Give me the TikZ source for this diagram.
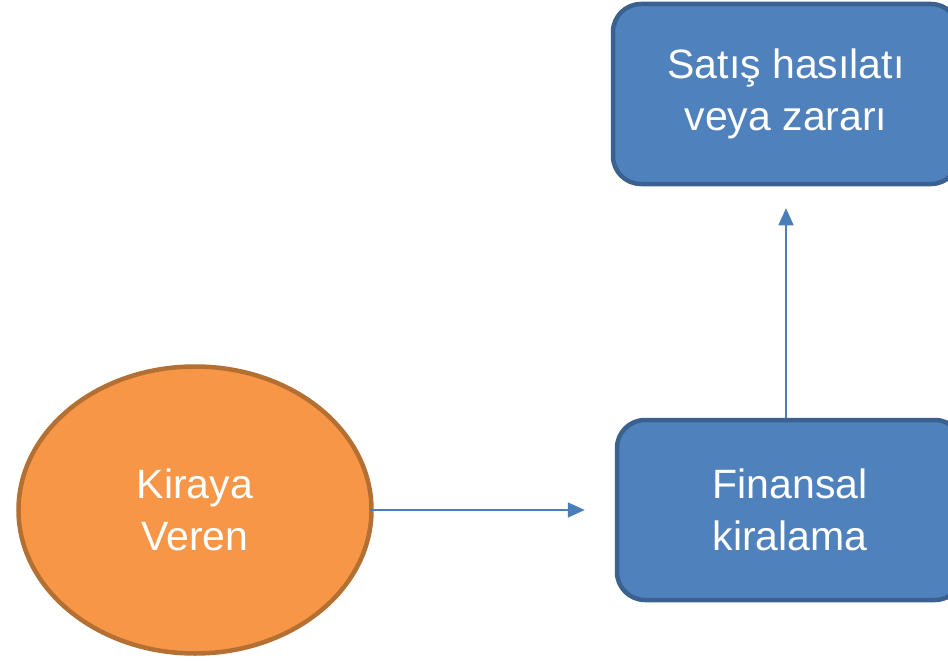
\documentclass[tikz,border=0pt]{standalone}
\usepackage{fontspec}
\setmainfont{Liberation Sans}
\usetikzlibrary{arrows.meta,shapes.geometric}
\definecolor{boxfill}{HTML}{4F81BD}
\definecolor{boxline}{HTML}{3A6190}
\definecolor{ovfill}{HTML}{F79646}
\definecolor{ovline}{HTML}{B46F32}
\definecolor{arr}{HTML}{4A7EBB}
\tikzset{
  bluebox/.style={draw=boxline, fill=boxfill, line width=4.5pt, rounded corners=28pt,
    minimum width=346pt, minimum height=180pt, inner sep=0pt, text=white,
    align=center, font=\fontsize{41pt}{52pt}\selectfont},
  oval/.style={ellipse, draw=ovline, fill=ovfill, line width=4.5pt,
    minimum width=353pt, minimum height=287pt, inner sep=0pt, text=white,
    align=center, font=\fontsize{41pt}{52pt}\selectfont},
  conn/.style={draw=arr, line width=1.6pt, -{Triangle[length=17pt,width=15pt]}}
}
\begin{document}
\begin{tikzpicture}[x=1pt,y=-1pt]
\useasboundingbox (0,0) rectangle (948,661);
\clip (0,0) rectangle (948,661);
\node[bluebox] (sat) at (786,94) {Satış hasılatı\\veya zararı};
\node[bluebox] (fin) at (790,510) {Finansal\\kiralama};
\node[oval] (kv) at (195,510) {Kiraya\\Veren};
\draw[conn, shorten >=30pt] ([xshift=-4pt]kv.east) -- (fin.west);
\draw[conn, shorten >=22pt] (fin.north -| sat.south) -- (sat.south);
\end{tikzpicture}
\end{document}
